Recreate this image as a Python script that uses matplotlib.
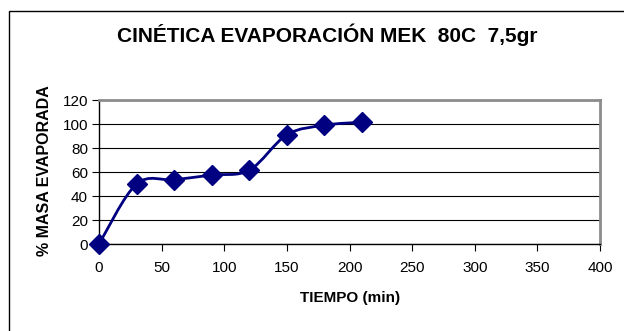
import matplotlib
matplotlib.use("Agg")
import matplotlib.pyplot as plt
from matplotlib.path import Path
from matplotlib.patches import PathPatch, Rectangle

plt.rcParams['font.family'] = ['Liberation Sans', 'DejaVu Sans']

tiempo = [0, 30, 60, 90, 120, 150, 180, 210]
masa_evaporada = [0, 50, 53.5, 57.5, 61.5, 91, 99, 101.5]
x_ticks = [0, 50, 100, 150, 200, 250, 300, 350, 400]
y_ticks = [0, 20, 40, 60, 80, 100, 120]

W, H = 624, 331
fig = plt.figure(figsize=(W / 100, H / 100), dpi=100)
fig.patch.set_facecolor('white')

# outer chart frame
fig.add_artist(Rectangle((9 / W, -0.1), 1.2, 1 - 11 / H + 0.1,
                         transform=fig.transFigure, fill=False,
                         edgecolor='black', linewidth=1.0))

left, right, top, bottom = 99, 600, 100, 244
ax = fig.add_axes([left / W, 1 - bottom / H, (right - left) / W, (bottom - top) / H])
ax.set_xlim(0, 400)
ax.set_ylim(0, 120)
ax.set_xticks(x_ticks)
ax.set_yticks(y_ticks)
ax.tick_params(axis='both', direction='out', length=5, width=0.8, labelsize=11, colors='black', pad=3)
ax.tick_params(axis='x', pad=7)
ax.yaxis.grid(True, color='black', linewidth=0.8)
ax.set_axisbelow(True)
for s in ['top', 'right']:
    ax.spines[s].set_color('#8c8c8c')
    ax.spines[s].set_linewidth(2)
for s in ['left', 'bottom']:
    ax.spines[s].set_color('black')
    ax.spines[s].set_linewidth(1)

# smoothed line through the points (Catmull-Rom as cubic Bezier segments)
pts = list(zip(tiempo, masa_evaporada))
verts = [pts[0]]
codes = [Path.MOVETO]
n = len(pts)
for i in range(n - 1):
    p0 = pts[i - 1] if i > 0 else pts[i]
    p1 = pts[i]
    p2 = pts[i + 1]
    p3 = pts[i + 2] if i + 2 < n else pts[i + 1]
    c1 = (p1[0] + (p2[0] - p0[0]) / 6, p1[1] + (p2[1] - p0[1]) / 6)
    c2 = (p2[0] - (p3[0] - p1[0]) / 6, p2[1] - (p3[1] - p1[1]) / 6)
    verts += [c1, c2, p2]
    codes += [Path.CURVE4] * 3
ax.add_patch(PathPatch(Path(verts, codes), facecolor='none', edgecolor='#000080',
                       linewidth=2, clip_on=False, zorder=3))
ax.plot(tiempo, masa_evaporada, linestyle='none', marker='D', markersize=10,
        color='#000080', clip_on=False, zorder=4)

fig.text(327 / W, 1 - 35 / H, 'CINÉTICA EVAPORACIÓN MEK  80C  7,5gr', ha='center', va='center',
         fontsize=15, fontweight='bold')
fig.text(350 / W, 1 - 298 / H, 'TIEMPO (min)', ha='center', va='center',
         fontsize=11, fontweight='bold')
fig.text(45 / W, 1 - 171 / H, '% MASA EVAPORADA', ha='center', va='center',
         rotation=90, fontsize=11.5, fontweight='bold')

fig.savefig('out.png', dpi=100, facecolor='white')
